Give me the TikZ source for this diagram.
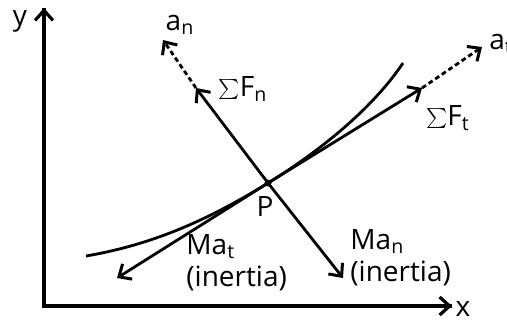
\documentclass[tikz,border=0pt]{standalone}
\usepackage{fontspec}
\setmainfont{Open Sans}
\usetikzlibrary{arrows.meta}
\tikzset{
  fb@axis/.style={line width=1.6pt, -{Straight Barb[length=5pt, width=9pt, line width=1.6pt]}},
  fb@vec/.style={line width=1.4pt, -{Straight Barb[length=5pt, width=9pt, line width=1.5pt]}},
  fb@acc/.style={fb@vec, dash pattern=on 2.4pt off 1.6pt},
  fb@path/.style={line width=1.4pt},
  fb@lbl/.style={font=\fontsize{14}{16}\selectfont, inner sep=0pt},
}
\begin{document}
\begin{tikzpicture}[x=0.5pt, y=-0.5pt]
  \useasboundingbox (0,0) rectangle (507,323);

  % axes
  \coordinate (O) at (44,306);
  \coordinate (Y) at (44,8);
  \coordinate (X) at (452,306);
  \draw[line width=1.6pt] (Y) -- (O) -- (X);
  \draw[fb@axis] (O) -- (Y);
  \draw[fb@axis] (O) -- (X);
  \node[fb@lbl] (ylbl) at (20,21) {y};
  \node[fb@lbl] (xlbl) at (463,309) {x};

  % path of the particle
  \coordinate (P) at (268,183);
  \coordinate (s0) at (86,256);
  \coordinate (s1) at (403,63);
  \draw[fb@path] (s0) .. controls (150,245) and (205,222) .. (P)
                      .. controls (325,148) and (375,105) .. (s1);

  % tangential and normal directions
  \coordinate (Ft)  at (422,88);
  \coordinate (at)  at (482,47);
  \coordinate (Mat) at (117,278);
  \coordinate (Fn)  at (196,88);
  \coordinate (an)  at (163,40);
  \coordinate (Man) at (343,278);
  \draw[fb@acc] (Ft) -- (at);
  \draw[fb@acc] (Fn) -- (an);
  \draw[fb@vec] (P) -- (Ft);
  \draw[fb@vec] (P) -- (Fn);
  \draw[fb@vec] (P) -- (Mat);
  \draw[fb@vec] (P) -- (Man);
  \fill (P) circle (3.5);

  \node[fb@lbl] (Plbl)  at (265,206) {P};
  \node[fb@lbl] (anlbl) at (180,25) {a\textsubscript{n}};
  \node[fb@lbl, anchor=west] (atlbl) at (489,44) {a\textsubscript{t}};
  \node[fb@lbl] (Fnlbl) at (243,89) {$\sum$F\textsubscript{n}};
  \node[fb@lbl] (Ftlbl) at (448,118) {$\sum$F\textsubscript{t}};
  \node[fb@lbl, anchor=north west, align=left] (Matlbl) at (186,234)
    {Ma\textsubscript{t}\\(inertia)};
  \node[fb@lbl, anchor=north west, align=left] (Manlbl) at (350,229)
    {Ma\textsubscript{n}\\(inertia)};
\end{tikzpicture}
\end{document}
